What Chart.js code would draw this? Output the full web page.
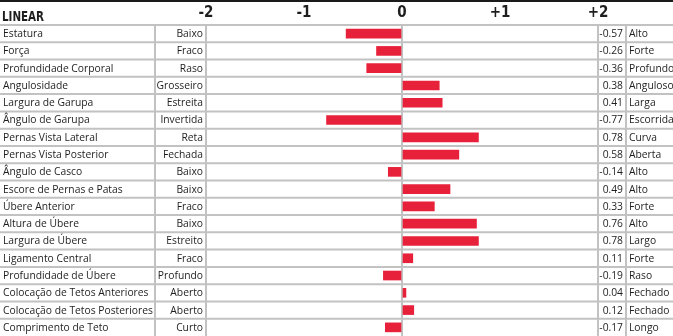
<!DOCTYPE html>
<html>
<head>
<meta charset="utf-8">
<script src="https://cdn.jsdelivr.net/npm/chart.js@4.4.1/dist/chart.umd.min.js"></script>
<style>
body{ margin:0; background:#fff; }
canvas{ display:block; }
</style>
</head>
<body>
<canvas id="graficoLinear" width="673" height="336"></canvas>
<script>

// ===========================
// DADOS
// ===========================

const caracteristicas = [
    "Estatura", "Força", "Profundidade Corporal", "Angulosidade",
    "Largura de Garupa", "Ângulo de Garupa", "Pernas Vista Lateral",
    "Pernas Vista Posterior", "Ângulo de Casco", "Escore de Pernas e Patas",
    "Úbere Anterior", "Altura de Úbere", "Largura de Úbere", "Ligamento Central",
    "Profundidade de Úbere", "Colocação de Tetos Anteriores",
    "Colocação de Tetos Posteriores", "Comprimento de Teto"
];

const extremoBaixo = [
    "Baixo", "Fraco", "Raso", "Grosseiro", "Estreita", "Invertida", "Reta",
    "Fechada", "Baixo", "Baixo", "Fraco", "Baixo", "Estreito", "Fraco",
    "Profundo", "Aberto", "Aberto", "Curto"
];

const extremoAlto = [
    "Alto", "Forte", "Profundo", "Anguloso", "Larga", "Escorrida", "Curva",
    "Aberta", "Alto", "Alto", "Forte", "Alto", "Largo", "Forte",
    "Raso", "Fechado", "Fechado", "Longo"
];

const valores = [
    -0.57, -0.26, -0.36, 0.38, 0.41, -0.77, 0.78, 0.58, -0.14,
    0.49, 0.33, 0.76, 0.78, 0.11, -0.19, 0.04, 0.12, -0.17
];

const marcas = { "-2": "-2", "-1": "-1", "0": "0", "1": "+1", "2": "+2" };

const titulo = "LINEAR";


const corLinha = "#c2c2c2";
const corTexto = "#1e1e1e";
const fonteTexto = "10.3px 'Open Sans', sans-serif";
const fonteCabecalho = "'DejaVu Sans Condensed', 'Liberation Sans Narrow', sans-serif";


// ===========================
// TABELA (colunas e linhas)
// ===========================

const tabela = {

    id: "tabela",

    beforeDraw(chart){
        const ctx = chart.ctx;
        ctx.save();
        ctx.fillStyle = "#fff";
        ctx.fillRect(0, 0, chart.width, chart.height);
        ctx.restore();
    },

    beforeDatasetsDraw(chart){

        const ctx = chart.ctx;
        const area = chart.chartArea;
        const y = chart.scales.y;
        const passo = y.getPixelForValue(1) - y.getPixelForValue(0);

        ctx.save();

        // linha preta do topo
        ctx.fillStyle = "#1a1a1a";
        ctx.fillRect(0, 0, chart.width, 2);

        // titulo (estreitado para parecer fonte condensada)
        ctx.save();
        ctx.fillStyle = corTexto;
        ctx.font = "bold 14px " + fonteCabecalho;
        ctx.textBaseline = "alphabetic";
        ctx.textAlign = "left";
        ctx.translate(2, 21);
        ctx.scale(0.82, 1);
        ctx.fillText(titulo, 0, 0);
        ctx.restore();

        // linhas horizontais entre as caracteristicas
        ctx.strokeStyle = corLinha;
        ctx.lineWidth = 2;
        for (let i = 0; i < caracteristicas.length; i++){
            const topo = y.getPixelForValue(i) - passo / 2;
            ctx.beginPath();
            ctx.moveTo(0, topo);
            ctx.lineTo(chart.width, topo);
            ctx.stroke();
        }

        // divisorias verticais fora da area do grafico
        [155, area.right + 28].forEach(x => {
            ctx.beginPath();
            ctx.moveTo(x, area.top);
            ctx.lineTo(x, chart.height);
            ctx.stroke();
        });

        // textos
        ctx.fillStyle = corTexto;
        ctx.font = fonteTexto;
        ctx.textBaseline = "middle";

        caracteristicas.forEach((nome, i) => {
            const meio = y.getPixelForValue(i) + 0.5;

            ctx.textAlign = "left";
            ctx.fillText(nome, 3, meio);

            ctx.textAlign = "right";
            ctx.fillText(extremoBaixo[i], area.left - 3, meio);

            ctx.fillText(valores[i].toFixed(2), area.right + 25, meio);

            ctx.textAlign = "left";
            ctx.fillText(extremoAlto[i], area.right + 31, meio);
        });

        ctx.restore();
    }
};


// ===========================
// GRÁFICO DE BARRAS
// ===========================

new Chart(

    document.getElementById("graficoLinear"),

    {
    type: "bar",

    data: {
        labels: caracteristicas,
        datasets: [{
            data: valores,
            backgroundColor: "#e8213b",
            borderWidth: 0,
            barThickness: 9
        }]
    },

    options: {
        responsive: false,
        animation: false,
        indexAxis: "y",
        layout: {
            padding: { left: 206, right: 75, top: 0, bottom: 0 }
        },
        plugins: {
            legend: { display: false },
            tooltip: { enabled: false }
        },
        scales: {
            x: {
                position: "top",
                min: -2,
                max: 2,
                afterFit(scale){ scale.height = 25; },
                afterBuildTicks(scale){
                    scale.ticks = [-2, -1, 0, 1, 2].map(v => ({ value: v }));
                },
                border: { display: false },
                grid: {
                    drawTicks: false,
                    lineWidth: 2,
                    color: c => (c.tick && c.tick.value % 2 === 0) ? corLinha : "rgba(0,0,0,0)"
                },
                ticks: {
                    padding: 3,
                    color: corTexto,
                    font: { family: fonteCabecalho, size: 15, weight: "bold" },
                    callback: v => marcas[String(v)]
                }
            },
            y: {
                display: false
            }
        }
    },

    plugins: [tabela]
    }

);

</script>
</body>
</html>
